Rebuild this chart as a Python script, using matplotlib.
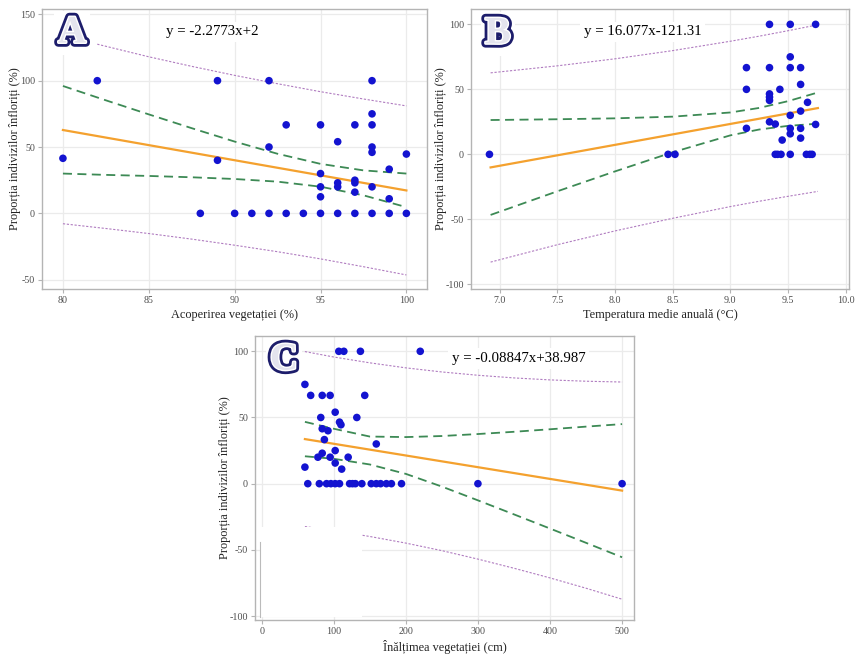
import matplotlib.pyplot as plt
import matplotlib.patheffects as pe
from matplotlib.patches import Rectangle

plt.rcParams['font.family'] = ['Liberation Serif', 'DejaVu Serif']
plt.rcParams['axes.unicode_minus'] = False

# panel A - vegetation cover
cover_x = [80, 82, 88, 89, 89, 90, 91, 92, 92, 92, 93, 93, 94,
           95, 95, 95, 95, 95, 96, 96, 96, 96, 97, 97, 97, 97, 97,
           98, 98, 98, 98, 98, 98, 98, 99, 99, 99, 100, 100]
cover_y = [41.5, 100, 0, 100, 40, 0, 0, 100, 50, 0, 66.7, 0, 0,
           66.7, 30, 20, 12.5, 0, 54, 23, 20, 0, 66.7, 25, 23, 16, 0,
           100, 75, 66.7, 50, 46, 20, 0, 33.3, 11, 0, 44.7, 0]
cover_slope, cover_icpt = -2.2773, 245.0
cover_band_x = [80, 82.5, 85, 87.5, 90, 92.5, 95, 97.5, 100]
cover_ci_hi = [96, 85.2, 74.6, 64.2, 54.1, 44.9, 37.3, 32.4, 30]
cover_ci_lo = [30, 29.0, 28.2, 27.2, 25.9, 23.9, 20.1, 13.6, 4.7]
cover_pi_hi_x = [82, 85, 87.5, 90, 92.5, 95, 97.5, 100]
cover_pi_hi = [127.5, 118, 110.8, 104, 97.7, 91.7, 86.2, 81]
cover_pi_lo = [-7.8, -11.4, -15.2, -19.4, -24, -28.9, -34.3, -40.2, -46.4]

# panel B - mean annual temperature
temp_x = [6.91, 8.46, 8.52, 9.14, 9.14, 9.14,
          9.34, 9.34, 9.34, 9.34, 9.34, 9.34, 9.39, 9.39, 9.41, 9.43, 9.44, 9.45,
          9.52, 9.52, 9.52, 9.52, 9.52, 9.52, 9.52,
          9.61, 9.61, 9.61, 9.61, 9.61, 9.66, 9.67, 9.69, 9.71, 9.74, 9.74]
temp_y = [0, 0, 0, 66.7, 50, 20,
          100, 66.7, 46.5, 44, 41.5, 25, 23.3, 0, 0, 50, 0, 11,
          100, 75, 66.7, 30, 20, 15.8, 0,
          66.7, 53.8, 33.3, 20, 12.5, 0, 40, 0, 0, 100, 23]
temp_slope, temp_icpt = 16.077, -121.31
temp_band_x = [6.92, 7.5, 8.0, 8.5, 9.0, 9.25, 9.5, 9.76]
temp_ci_hi = [26.4, 27.0, 27.7, 29.0, 32.2, 35.7, 40.9, 47.6]
temp_ci_lo = [-46.6, -28.4, -13.1, 1.6, 14.6, 19.1, 21.9, 23.6]
temp_pi_hi = [62.7, 68.1, 73.5, 79.8, 87.0, 90.9, 95.1, 99.7]
temp_pi_lo = [-82.9, -69.5, -58.9, -49.2, -40.2, -36.1, -32.3, -28.5]

# panel C - vegetation height
height_x = [60, 68, 84, 95, 143, 102, 82, 132, 108, 110, 84, 92, 87, 159,
            102, 84, 78, 95, 120, 102, 60, 111,
            64, 80, 90, 96, 102, 108, 122, 126, 130, 139, 152, 159, 165,
            173, 180, 194, 300, 500,
            107, 114, 137, 220]
height_y = [75, 66.7, 66.7, 66.7, 66.7, 54, 50, 50, 46.5, 44.5, 41.5, 40, 33.3, 30,
            25, 23, 20, 20, 20, 15.6, 12.5, 11,
            0, 0, 0, 0, 0, 0, 0, 0, 0, 0, 0, 0, 0,
            0, 0, 0, 0, 0,
            100, 100, 100, 100]
height_slope, height_icpt = -0.08847, 38.987
height_band_x = [60, 100, 150, 200, 250, 300, 350, 400, 450, 500]
height_ci_hi = [46.7, 41.5, 35.6, 35.2, 36.0, 37.5, 39.2, 41.1, 43.1, 45.0]
height_ci_lo = [20.7, 18.8, 14.5, 7.4, -2.2, -12.6, -23.2, -33.9, -44.7, -55.6]
height_pi_hi = [99.8, 95.7, 91.3, 87.5, 84.4, 81.9, 79.9, 78.4, 77.4, 76.8]
height_pi_lo = [-32.4, -35.5, -39.9, -44.9, -50.6, -57.0, -63.9, -71.2, -79.0, -87.3]

POINT = '#1313d0'
FIT = '#f4a12e'
CI = '#3d8a55'
PI = '#b07cc0'
NAVY = '#1d1d6b'
GRID = '#ebebeb'
FRAME = '#b4b4b4'

fig = plt.figure(figsize=(8.55, 6.54), dpi=100)
ax_a = fig.add_axes([0.0491, 0.5581, 0.4503, 0.4281])
ax_b = fig.add_axes([0.5509, 0.5581, 0.4421, 0.4281])
ax_c = fig.add_axes([0.2982, 0.0520, 0.4433, 0.4343])


def style(ax, xlim, ylim, xticks, yticks, xfmt, xlabel):
    ax.set_xlim(*xlim)
    ax.set_ylim(*ylim)
    ax.set_xticks(xticks)
    ax.set_yticks(yticks)
    ax.set_xticklabels([xfmt.format(v) for v in xticks])
    ax.grid(True, color=GRID, lw=0.9, zorder=0)
    ax.set_axisbelow(True)
    for s in ax.spines.values():
        s.set_color(FRAME)
        s.set_linewidth(1.0)
    ax.tick_params(length=3, width=0.8, color=FRAME, labelcolor='#4d4d4d',
                   labelsize=7.2, pad=2)
    ax.set_xlabel(xlabel, fontsize=8.8, color='#222222', labelpad=3)
    ax.set_ylabel('Proporția indivizilor înfloriți (%)', fontsize=8.8,
                  color='#222222', labelpad=-1)


def badge(ax, letter, x, y):
    ax.text(x, y, letter, transform=ax.transAxes, ha='center', va='center',
            fontsize=28, fontweight='bold', color='#e4e4ee', zorder=6,
            bbox=dict(boxstyle='square,pad=0.1', fc='white', ec='none'),
            path_effects=[pe.Stroke(linewidth=6, foreground=NAVY),
                          pe.Stroke(linewidth=2, foreground='white'),
                          pe.Normal()])


def equation(ax, text, x, y):
    ax.text(x, y, text, ha='left', va='center', fontsize=10.7, color='black',
            zorder=6, bbox=dict(boxstyle='square,pad=0.25', fc='white', ec='none'))


def panel(ax, xs, ys, slope, icpt, fit_x, band_x, ci_hi, ci_lo,
          pi_hi_x, pi_hi, pi_lo_x, pi_lo):
    ax.plot(pi_hi_x, pi_hi, color=PI, lw=0.8, ls=(0, (2, 1.5)), zorder=2)
    ax.plot(pi_lo_x, pi_lo, color=PI, lw=0.8, ls=(0, (2, 1.5)), zorder=2)
    ax.plot(band_x, ci_hi, color=CI, lw=1.3, ls=(0, (5, 3)), zorder=2)
    ax.plot(band_x, ci_lo, color=CI, lw=1.3, ls=(0, (5, 3)), zorder=2)
    ax.plot(fit_x, [slope * v + icpt for v in fit_x], color=FIT, lw=1.6, zorder=3)
    ax.scatter(xs, ys, s=30, color=POINT, edgecolors='none', zorder=4)


# A
style(ax_a, (78.78, 101.2), (-57, 154), [80, 85, 90, 95, 100],
      [-50, 0, 50, 100, 150], '{:d}', 'Acoperirea vegetației (%)')
panel(ax_a, cover_x, cover_y, cover_slope, cover_icpt, [80, 100],
      cover_band_x, cover_ci_hi, cover_ci_lo,
      cover_pi_hi_x, cover_pi_hi, cover_band_x, cover_pi_lo)
badge(ax_a, 'A', 0.078, 0.914)
equation(ax_a, 'y = -2.2773x+2', 86.0, 136.7)

# B
style(ax_b, (6.75, 10.03), (-103.6, 111.8), [7.0, 7.5, 8.0, 8.5, 9.0, 9.5, 10.0],
      [-100, -50, 0, 50, 100], '{:.1f}', 'Temperatura medie anuală (°C)')
panel(ax_b, temp_x, temp_y, temp_slope, temp_icpt, [6.92, 9.76],
      temp_band_x, temp_ci_hi, temp_ci_lo,
      temp_band_x, temp_pi_hi, temp_band_x, temp_pi_lo)
badge(ax_b, 'B', 0.071, 0.911)
equation(ax_b, 'y = 16.077x-121.31', 7.73, 94.3)

# C
style(ax_c, (-9.3, 516.5), (-103, 111.6), [0, 100, 200, 300, 400, 500],
      [-100, -50, 0, 50, 100], '{:d}', 'Înălțimea vegetației (cm)')
panel(ax_c, height_x, height_y, height_slope, height_icpt, [60, 500],
      height_band_x, height_ci_hi, height_ci_lo,
      height_band_x, height_pi_hi, height_band_x, height_pi_lo)
badge(ax_c, 'C', 0.0765, 0.915)
equation(ax_c, 'y = -0.08847x+38.987', 263.6, 94.6)
# blank block in the lower left corner of C
ax_c.add_patch(Rectangle((-2.4, -101), 141.4, 68, fc='white', ec='none', zorder=5))
ax_c.plot([-2.4, -2.4], [-44, -101], color='#bbbbbb', lw=0.8, zorder=5)

fig.savefig('out.png', dpi=100)
